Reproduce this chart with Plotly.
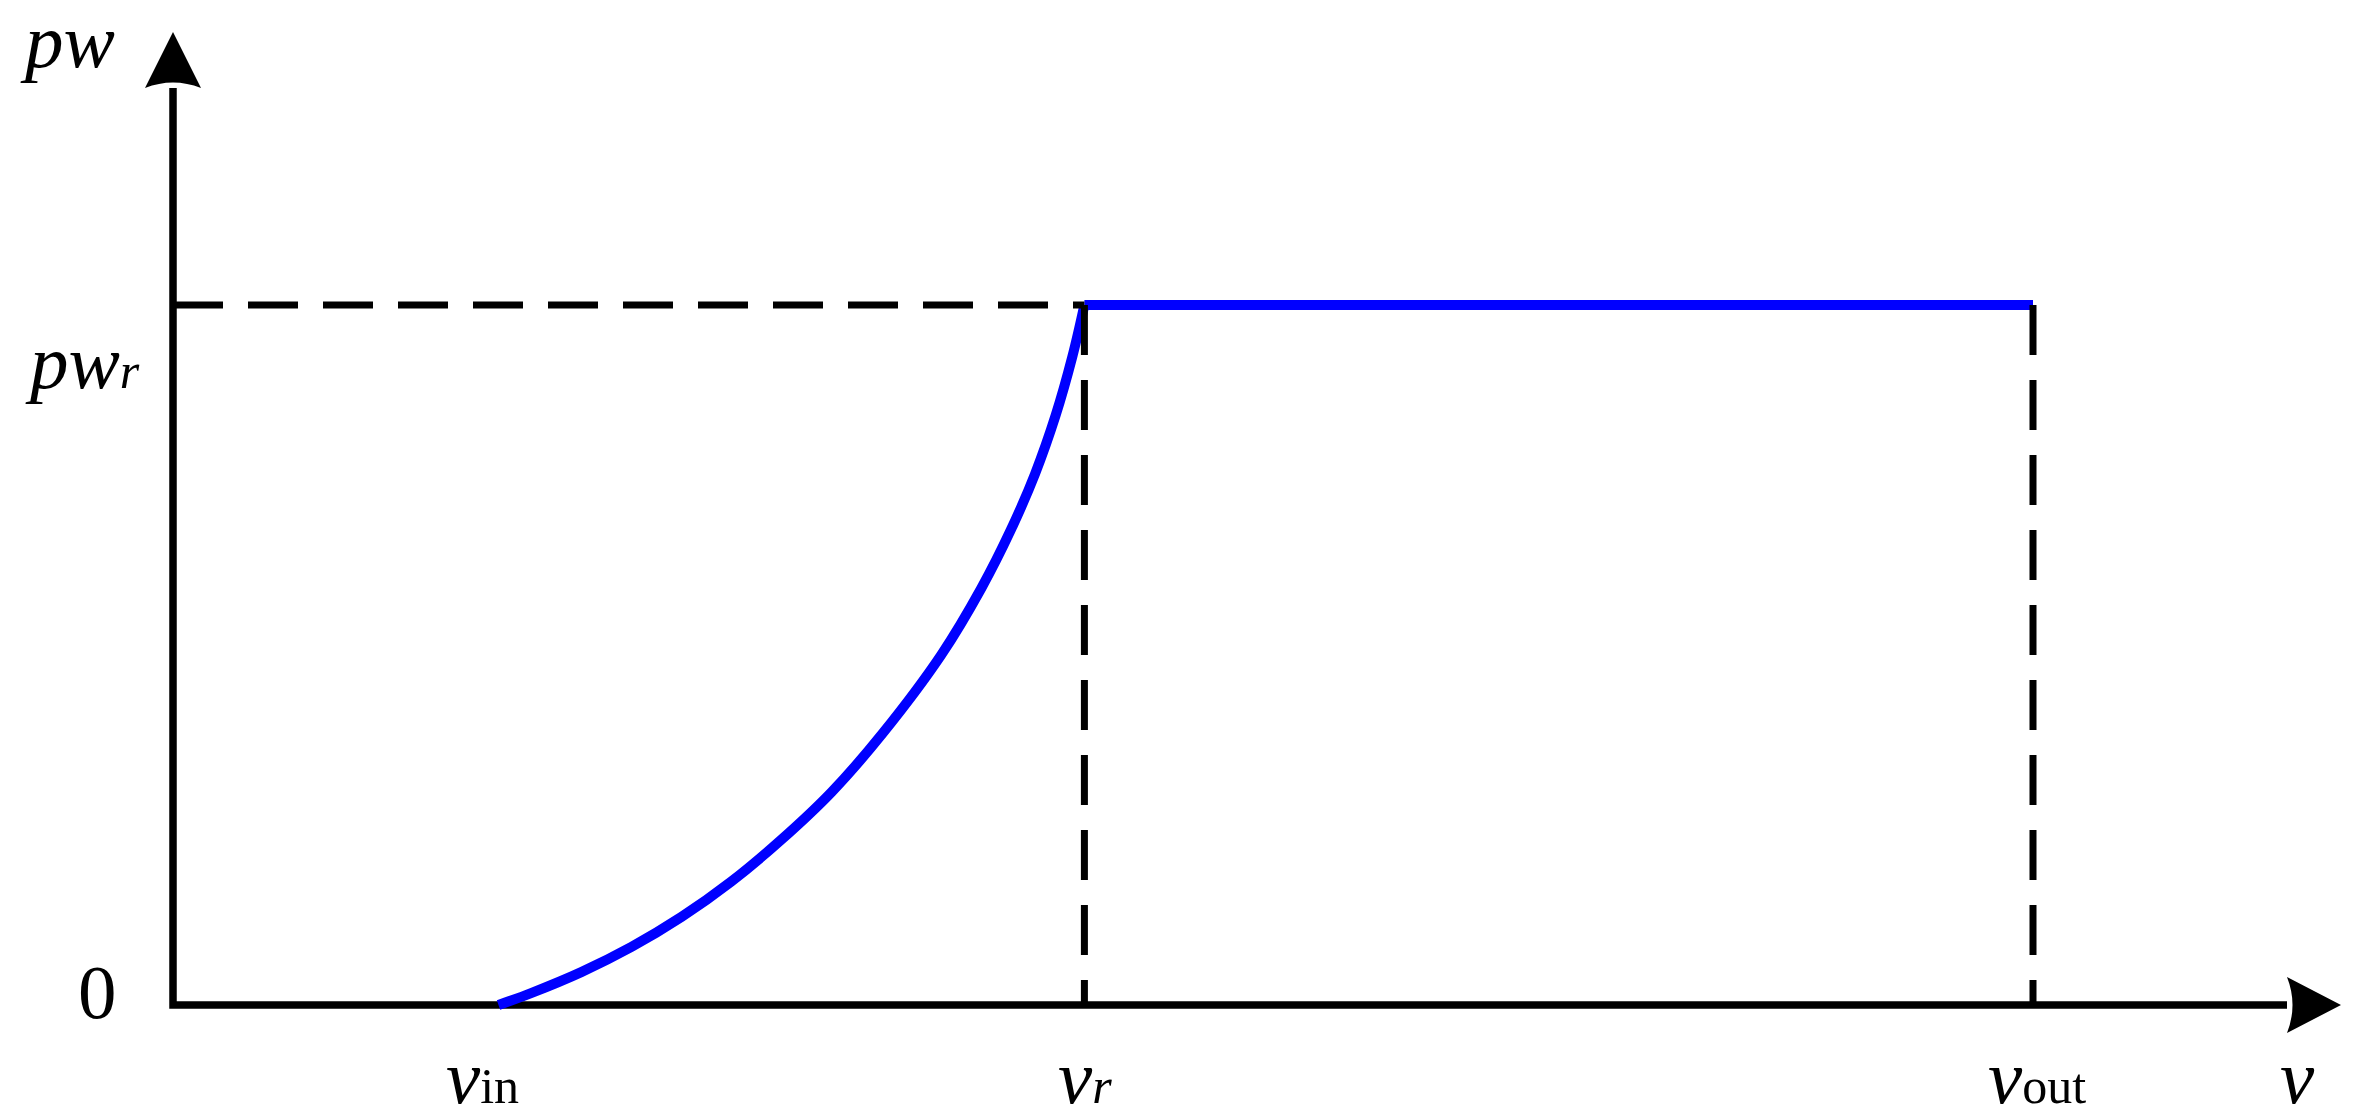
import plotly.graph_objects as go

# ---- data (arbitrary units) ----
V_IN = 3.5      # cut-in wind speed
V_R = 9.8       # rated wind speed
V_OUT = 20.0    # cut-out wind speed
P_R = 1.0       # rated power

# rising part of the power curve between v_in and v_r
curve_v = [3.5, 3.85, 4.39, 4.93, 5.47, 6.0, 6.54, 7.08, 7.63, 8.26, 8.69, 9.01, 9.27, 9.49,
           9.67, 9.8]
curve_p = [0.0, 0.017, 0.047, 0.083, 0.126, 0.176, 0.236, 0.304, 0.388, 0.500, 0.595, 0.679,
           0.759, 0.842, 0.926, 1.0]

# rated (flat) part
flat_v = [V_R, V_OUT]
flat_p = [P_R, P_R]

# ---- layout geometry ----
W, H = 2344, 1104
PXV, PXP = 93.0, 700.0          # pixels per unit
OX, OY = 165.0, 997.0           # origin in figure pixels
X_RANGE = [-OX / PXV, (W - OX) / PXV]
Y_RANGE = [-(H - OY) / PXP, OY / PXP]
X_AXIS_END = 2114 / PXV
Y_AXIS_TOP = 917 / PXP

FONT = "Liberation Serif"
FS = 77
SUB = 50
PAD = 8

fig = go.Figure()

blue = dict(color="#0000FF", width=10)
fig.add_trace(go.Scatter(x=curve_v, y=curve_p, mode="lines",
                         line=dict(shape="spline", smoothing=1.0, simplify=False, **blue),
                         hoverinfo="skip"))
fig.add_trace(go.Scatter(x=flat_v, y=flat_p, mode="lines", line=blue, hoverinfo="skip"))

dash = dict(color="black", width=7, dash="50px,25px")
fig.add_trace(go.Scatter(x=[0, V_R], y=[P_R, P_R], mode="lines", line=dash, hoverinfo="skip"))
fig.add_trace(go.Scatter(x=[V_R, V_R], y=[P_R, 0], mode="lines", line=dash, hoverinfo="skip"))
fig.add_trace(go.Scatter(x=[V_OUT, V_OUT], y=[P_R, 0], mode="lines", line=dash, hoverinfo="skip"))

shapes = [
    # axes
    dict(type="path", xref="x", yref="y", layer="below",
         path=f"M 0,{Y_AXIS_TOP} L 0,0 L {X_AXIS_END},0",
         line=dict(color="black", width=7.5)),
    # y arrow head
    dict(type="path", xref="x", yref="y", xsizemode="pixel", ysizemode="pixel",
         xanchor=0, yanchor=Y_AXIS_TOP, layer="below",
         path="M 0 56 L 28 0 Q 0 11 -28 0 Z",
         fillcolor="black", line=dict(width=0)),
    # x arrow head
    dict(type="path", xref="x", yref="y", xsizemode="pixel", ysizemode="pixel",
         xanchor=X_AXIS_END, yanchor=0, layer="below",
         path="M 54 0 L 0 28 Q 11 0 0 -28 Z",
         fillcolor="black", line=dict(width=0)),
]

def ann(text, x, y, xs, ys):
    return dict(text=text, x=x, y=y, xref="x", yref="y", xanchor="left", yanchor="middle",
                xshift=xs - (PAD - 1), yshift=ys, showarrow=False, borderpad=PAD,
                font=dict(family=FONT, size=FS, color="black"))

sub = lambda s, it=False: (f"<span style='font-size:{SUB}px'>" + (f"<i>{s}</i>" if it else s) + "</span>")

annotations = [
    ann("<i>pw</i>", 0, Y_AXIS_TOP, -155, 47),
    ann("<i>pw</i>" + sub("r", True), 0, P_R, -150, -57),
    ann("0", 0, 0, -97, 13),
    ann("<i>v</i>" + sub("in"), V_IN, 0, -55, -72),
    ann("<i>v</i>" + sub("r", True), V_R, 0, -28, -72),
    ann("<i>v</i>" + sub("out"), V_OUT, 0, -47, -72),
    ann("<i>v</i>", X_AXIS_END, 0, -9, -72),
]

fig.update_layout(
    width=W, height=H, margin=dict(l=0, r=0, t=0, b=0),
    paper_bgcolor="white", plot_bgcolor="white", showlegend=False,
    xaxis=dict(range=X_RANGE, visible=False, fixedrange=True),
    yaxis=dict(range=Y_RANGE, visible=False, fixedrange=True),
    shapes=shapes, annotations=annotations,
)

fig.write_html("out.html", config={"displayModeBar": False})
